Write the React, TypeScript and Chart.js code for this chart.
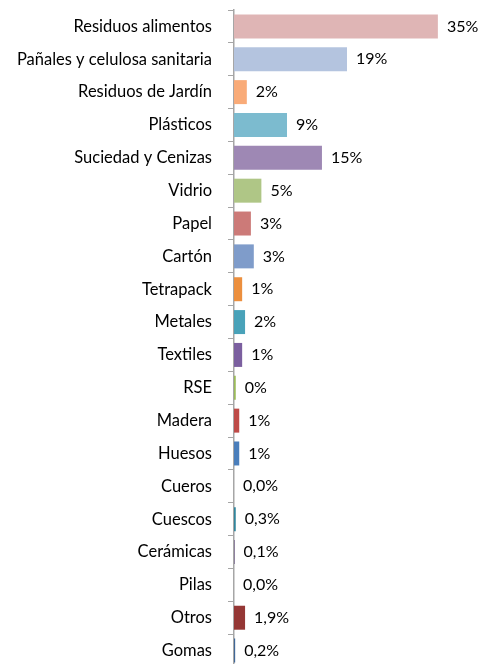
import React, { useEffect, useRef } from "react";
import { Chart, registerables } from "chart.js";

Chart.register(...registerables);

const categories = [
  "Residuos alimentos",
  "Pañales y celulosa sanitaria",
  "Residuos de Jardín",
  "Plásticos",
  "Suciedad y Cenizas",
  "Vidrio",
  "Papel",
  "Cartón",
  "Tetrapack",
  "Metales",
  "Textiles",
  "RSE",
  "Madera",
  "Huesos",
  "Cueros",
  "Cuescos",
  "Cerámicas",
  "Pilas",
  "Otros",
  "Gomas",
];

const values = [35.0, 19.4, 2.2, 9.1, 15.1, 4.7, 2.9, 3.4, 1.4, 1.9, 1.4, 0.3, 0.9, 0.9, 0.0, 0.3, 0.1, 0.0, 1.9, 0.2];

const labelDecimals = [0, 0, 0, 0, 0, 0, 0, 0, 0, 0, 0, 0, 0, 0, 1, 1, 1, 1, 1, 1];

const barColors = [
  "#DFB5B5",
  "#B4C4DF",
  "#F9AB78",
  "#7CBBCF",
  "#9E88B4",
  "#AFC686",
  "#CC7A78",
  "#7F9CCA",
  "#EC8F3E",
  "#49A2B9",
  "#7B5F9F",
  "#9BBB59",
  "#BE4B48",
  "#4A7EBB",
  "#F79646",
  "#31859C",
  "#5F497A",
  "#404040",
  "#953735",
  "#3F6797",
];

const FONT = "Lato, 'Open Sans', sans-serif";
const TICK_FONT_SIZE = 16.5;
const VALUE_FONT_SIZE = 16;

const fmt = (v: number, d: number) => v.toFixed(d).replace(".", ",") + "%";

const valueLabels = {
  id: "valueLabels",
  afterDatasetsDraw(chart: any) {
    const ctx = chart.ctx;
    const meta = chart.getDatasetMeta(0);
    ctx.save();
    ctx.font = `${VALUE_FONT_SIZE}px ${FONT}`;
    ctx.fillStyle = "#000000";
    ctx.textAlign = "left";
    ctx.textBaseline = "middle";
    meta.data.forEach((el: any, i: number) => {
      ctx.fillText(fmt(values[i], labelDecimals[i]), el.x + 9, el.y);
    });
    ctx.restore();
  },
};

export default function App() {
  const ref = useRef<HTMLCanvasElement | null>(null);

  useEffect(() => {
    document.body.style.margin = "0";
    const canvas = ref.current;
    if (!canvas) return;
    const chart = new Chart(canvas, {
      type: "bar",
      data: {
        labels: categories,
        datasets: [
          {
            data: values,
            backgroundColor: barColors,
            borderWidth: 0,
            barPercentage: 0.73,
            categoryPercentage: 1,
          },
        ],
      },
      options: {
        indexAxis: "y",
        responsive: false,
        animation: false,
        devicePixelRatio: 1,
        layout: { padding: { top: 10, right: 16, bottom: 0, left: 0 } },
        plugins: {
          legend: { display: false },
          tooltip: { enabled: false },
        },
        scales: {
          x: {
            display: false,
            min: 0,
            max: 40,
          },
          y: {
            afterFit: (scale: any) => {
              scale.width = 234;
              scale.paddingTop = 0;
              scale.paddingBottom = 0;
            },
            grid: {
              drawOnChartArea: false,
              drawTicks: true,
              tickLength: 6,
              color: "#A6A6A6",
              offset: true,
            },
            border: { display: true, color: "#A6A6A6", width: 1.5 },
            ticks: {
              color: "#000000",
              padding: 16,
              font: { family: FONT, size: TICK_FONT_SIZE },
              autoSkip: false,
            },
          },
        },
      },
      plugins: [valueLabels],
    });
    return () => chart.destroy();
  }, []);

  return (
    <div style={{ position: "absolute", left: 0, top: 0, width: 483, height: 664, overflow: "hidden", background: "#fff" }}>
      <canvas ref={ref} width={483} height={667} style={{ display: "block" }} />
    </div>
  );
}
